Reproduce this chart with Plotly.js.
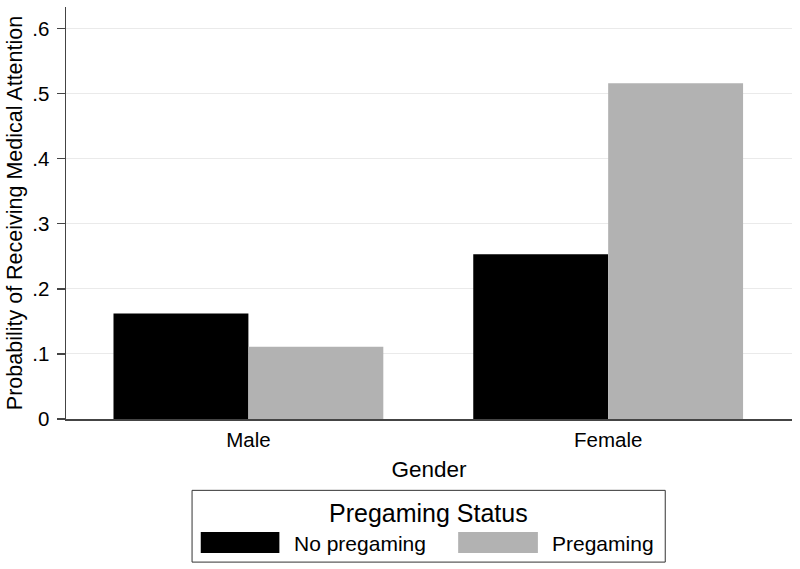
<!DOCTYPE html>
<html>
<head>
<meta charset="utf-8">
<script src="https://cdn.plot.ly/plotly-3.0.1.min.js"></script>
<style>html,body{margin:0;padding:0;background:#fff}#chart{width:800px;height:569px}</style>
</head>
<body>
<div id="chart"></div>
<script>
var categories = ["Male", "Female"];
var seriesNames = ["No pregaming", "Pregaming"];
var noPregaming = [0.162, 0.253];
var pregaming = [0.111, 0.516];
var yTickVals = [0, 0.1, 0.2, 0.3, 0.4, 0.5, 0.6];
var yTickText = ["0", ".1", ".2", ".3", ".4", ".5", ".6"];
var legendTitle = "Pregaming Status";

var colors = ["#000000", "#b2b2b2"];
var W = 800, H = 569;
var L = 66, R = 791.7, T = 7, B = 418.7;
function px(x) { return (x - L) / (R - L); }
function py(y) { return (B - y) / (B - T); }
var FONT = "Liberation Sans, Arial, Helvetica, sans-serif";

var traces = [noPregaming, pregaming].map(function (vals, i) {
  return {
    type: "bar", x: categories, y: vals, name: seriesNames[i],
    marker: {color: colors[i], line: {color: colors[i], width: 0}},
    showlegend: false, hoverinfo: "skip"
  };
});

var shapes = [
  {type: "rect", xref: "paper", yref: "paper", x0: px(192), x1: px(665), y0: py(490), y1: py(561.7),
   line: {color: "#333333", width: 1}, fillcolor: "rgba(0,0,0,0)"},
  {type: "rect", xref: "paper", yref: "paper", x0: px(200.7), x1: px(279.3), y0: py(531.7), y1: py(552.7),
   line: {width: 0}, fillcolor: colors[0]},
  {type: "rect", xref: "paper", yref: "paper", x0: px(458), x1: px(537.7), y0: py(531.7), y1: py(552.7),
   line: {width: 0}, fillcolor: colors[1]}
];

var annotations = [
  {text: legendTitle, xref: "paper", yref: "paper", x: px(428.5), y: py(513), xanchor: "center", yanchor: "middle",
   showarrow: false, font: {family: FONT, size: 25, color: "#000"}},
  {text: seriesNames[0], xref: "paper", yref: "paper", x: px(292), y: py(543), xanchor: "left", yanchor: "middle",
   showarrow: false, font: {family: FONT, size: 21, color: "#000"}},
  {text: seriesNames[1], xref: "paper", yref: "paper", x: px(550), y: py(543), xanchor: "left", yanchor: "middle",
   showarrow: false, font: {family: FONT, size: 21, color: "#000"}}
];

var layout = {
  width: W, height: H,
  margin: {l: L, r: W - R, t: T, b: H - B, pad: 0},
  paper_bgcolor: "#fff", plot_bgcolor: "#fff",
  font: {family: FONT, color: "#000", size: 20},
  barmode: "group", bargap: 0.25, bargroupgap: 0,
  showlegend: false,
  xaxis: {
    type: "category", range: [-0.507, 1.511], showgrid: false, zeroline: false,
    showline: true, linecolor: "#444", linewidth: 1.5, ticks: "",
    tickfont: {family: FONT, size: 20.5, color: "#000"}, ticklabelstandoff: 2,
    title: {text: "Gender", font: {family: FONT, size: 22.5, color: "#000"}, standoff: 11},
    automargin: false, fixedrange: true
  },
  yaxis: {
    range: [0, 0.633], tickvals: yTickVals, ticktext: yTickText,
    showgrid: true, gridcolor: "#eaeaea", gridwidth: 1, zeroline: false,
    showline: true, linecolor: "#444", linewidth: 1.5,
    ticks: "outside", ticklen: 8, tickcolor: "#444", tickwidth: 1.5,
    tickfont: {family: FONT, size: 20.5, color: "#000"}, ticklabelstandoff: 3,
    title: {text: "Probability of Receiving Medical Attention", font: {family: FONT, size: 21.5, color: "#000"}, standoff: 4},
    automargin: false, fixedrange: true
  },
  shapes: shapes,
  annotations: annotations
};

Plotly.newPlot("chart", traces, layout, {displayModeBar: false, staticPlot: true});
</script>
</body>
</html>
